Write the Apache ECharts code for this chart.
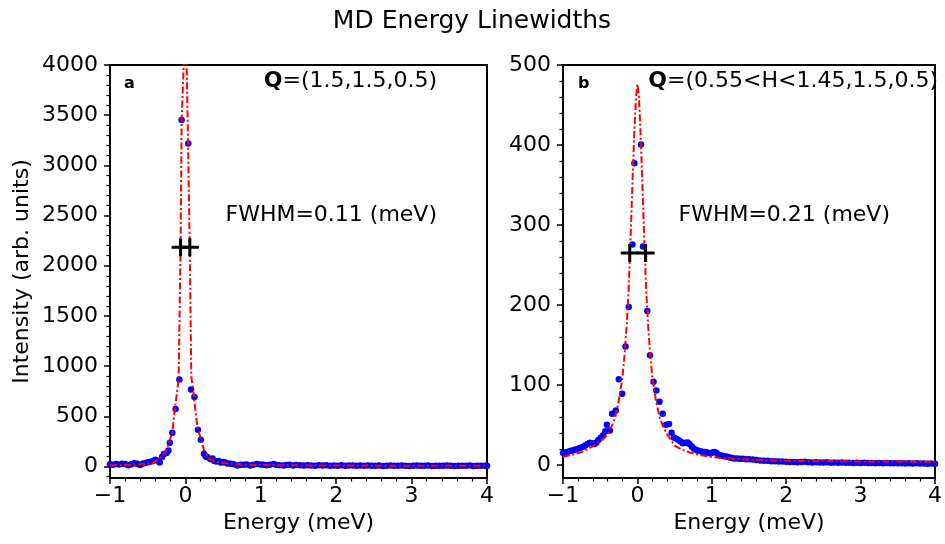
<!DOCTYPE html>
<html><head><meta charset="utf-8">
<script src="https://cdn.jsdelivr.net/npm/echarts@6/dist/echarts.min.js"></script>
<style>html,body{margin:0;padding:0;background:#fff}#c{width:945px;height:544px}</style>
</head><body><div id="c"></div>
<script>
// ---------- Panel a: data points ----------
const energyA = [-1.00,-0.96,-0.92,-0.88,-0.84,-0.80,-0.76,-0.72,-0.68,-0.64,-0.60,-0.56,-0.52,-0.48,-0.44,-0.40,-0.37,
  -0.34,-0.31,-0.285,-0.25,-0.225,-0.205,-0.174,-0.13,-0.08,-0.05,0.038,0.075,0.12,0.166,0.205,0.245,0.27,0.29,0.33,0.36,0.38,
  0.41,0.44,0.47,0.50,0.53,0.56,0.60,0.64,0.69,0.73,0.77,0.81,0.86,0.90,0.95,1.00,1.04,1.08,1.12,1.17,1.21,1.25,1.30,1.34,1.38,1.43,1.47,
  1.52,1.57,1.62,1.67,1.72,1.77,1.82,1.87,1.92,1.97,2.02,2.07,2.12,2.17,2.22,2.27,2.32,2.37,2.42,2.47,2.52,2.57,2.62,2.67,2.72,2.77,2.82,2.87,2.92,2.97,
  3.02,3.07,3.12,3.17,3.22,3.27,3.32,3.37,3.42,3.47,3.52,3.57,3.62,3.67,3.72,3.77,3.82,3.87,3.92,3.97,4.00];
const intensityA = [22,18,25,20,28,24,12,22,32,26,15,30,36,44,52,66,58,
  40,95,123,135,160,235,335,572,867,3453,3217,767,691,366,266,126,100,94,74,80,57,
  50,55,40,45,40,30,27,22,10,18,17,20,10,18,24,20,17,12,18,24,15,12,10,14,18,10,14,
  12,9,13,10,8,12,9,11,7,10,8,11,7,9,10,6,9,8,10,6,8,9,5,8,10,7,6,9,7,5,
  8,9,6,7,9,5,7,8,6,9,7,5,8,6,7,9,5,7,6,8,6];
// ---------- Panel a: fitted curve ----------
const fitEnergyA = [-1,-0.8,-0.6,-0.5,-0.42,-0.33,-0.26,-0.22,-0.175,-0.14,-0.09,-0.064,-0.05,-0.02,0,0.016,0.035,0.058,0.078,0.113,0.158,0.2,0.245,0.31,0.4,0.5,0.6,0.8,1,1.5,2,3,4];
const fitIntensityA = [12,15,22,28,38,84,150,233,333,565,867,2185,3450,4050,4400,4050,3217,2185,900,697,398,283,166,84,50,35,26,18,15,11,9,7.5,7];
// ---------- Panel a: half-maximum markers ----------
const halfEnergyA = [-0.064, 0.059];
const halfIntensityA = [2185, 2185];

// ---------- Panel b: data points ----------
const energyB = [-1.00,-0.97,-0.94,-0.91,-0.88,-0.85,-0.82,-0.79,-0.76,-0.73,-0.70,-0.67,-0.64,-0.61,-0.58,-0.55,-0.525,-0.49,-0.46,-0.43,-0.41,-0.37,-0.34,-0.29,-0.25,-0.205,-0.16,-0.116,-0.067,-0.04,
  0.048,0.075,0.133,0.17,0.217,0.255,0.297,0.34,0.387,0.425,0.46,0.49,0.52,0.55,0.58,0.61,0.645,0.675,0.70,0.73,0.76,0.79,0.82,0.85,0.88,0.91,0.94,0.97,1.00,
  1.03,1.06,1.09,1.12,1.15,1.18,1.21,1.24,1.27,1.30,1.34,1.38,1.42,1.46,1.50,1.55,1.60,1.65,1.70,1.75,1.80,1.85,1.90,1.95,2.00,
  2.05,2.10,2.15,2.20,2.25,2.30,2.35,2.40,2.45,2.50,2.55,2.60,2.65,2.70,2.75,2.80,2.85,2.90,2.95,3.00,
  3.05,3.10,3.15,3.20,3.25,3.30,3.35,3.40,3.45,3.50,3.55,3.60,3.65,3.70,3.75,3.80,3.85,3.90,3.95,4.00];
const intensityB = [15,15.5,16,17,18,18.5,19.5,20.5,21.5,22.5,24,26,27.5,27,26,28,31,34,37,42,50,43,64,68,107,89,148,197.5,275.5,377,
  400.5,273,192.5,137,104,93,79,64,50,51,40,34,33,31,29,27,27.5,28,26,23,20,18.5,17.5,17,16,16,15.5,14.5,15,
  16,15,13,12,11,10.5,10,9,8.5,8,8,7.5,7.5,7,7,6.5,6,5.5,5,5,4.5,4.5,4,4,3.8,
  3.5,3.6,3.3,3.4,3.8,3.2,3.0,3.3,3.0,2.8,3.1,2.7,2.9,2.6,2.8,2.5,2.7,2.4,2.6,2.3,
  2.5,2.2,2.4,2.1,2.3,2.0,2.2,1.9,2.1,1.8,2.0,1.7,1.9,1.6,1.8,1.5,1.7,1.4,1.5,1.3];
// ---------- Panel b: fitted curve ----------
const fitEnergyB = [-1,-0.9,-0.8,-0.7,-0.6,-0.5,-0.45,-0.4,-0.35,-0.3,-0.25,-0.2,-0.17,-0.14,-0.12,-0.1,-0.08,-0.06,-0.04,-0.02,0,0.02,0.04,0.06,0.08,0.1,0.12,0.14,0.17,0.2,0.25,0.3,0.35,0.4,0.45,0.5,0.6,0.7,0.8,1.0,1.2,1.5,2.0,2.5,3.0,3.5,4.0];
const fitIntensityB = [10,12,14.5,18,23,30,33,38,47,59,80,110,140,180,215,262,315,370,420,458,476,462,420,370,315,262,215,180,140,110,80,59,47,38,31,24,19,15.5,13,9.7,8,6.5,5,4.5,4.2,4,3.8];
// ---------- Panel b: half-maximum markers ----------
const halfEnergyB = [-0.103, 0.111];
const halfIntensityB = [265, 265];

// ---------- ticks / texts ----------
const xTicks = [-1,0,1,2,3,4];
const yTicksA = [0,500,1000,1500,2000,2500,3000,3500,4000];
const yTicksB = [0,100,200,300,400,500];
const titleText = 'MD Energy Linewidths';
const xName = 'Energy (meV)';
const yName = 'Intensity (arb. units)';

const FONT = 'DejaVu Sans';
const FS = 22;
const zip = (a, b) => a.map((v, i) => [v, b[i]]);
const minus = v => (v < 0 ? '\u2212' + Math.abs(v) : String(v));
const plain = v => String(v);
const PLUS = 'path://M7.5,0 h3 v7.5 h7.5 v3 h-7.5 v7.5 h-3 v-7.5 h-7.5 v-3 h7.5 z';

function xAxisFor(gi) {
  return {
    type: 'value', gridIndex: gi, min: -1, max: 4, interval: 1,
    name: xName, nameLocation: 'middle', nameGap: 31,
    nameTextStyle: {fontFamily: FONT, fontSize: FS, color: '#000'},
    axisLine: {show: true, onZero: false, lineStyle: {color: '#000', width: 2}},
    axisTick: {show: true, inside: false, length: 6, customValues: xTicks, lineStyle: {color: '#000', width: 1.5}},
    minorTick: {show: true, splitNumber: 5, length: 3.5, lineStyle: {color: '#000', width: 1.2}},
    axisLabel: {fontFamily: FONT, fontSize: FS, color: '#000', margin: 7, customValues: xTicks, formatter: minus},
    splitLine: {show: false}
  };
}
function yAxisFor(gi, min, max, split, ticks, withName) {
  return {
    type: 'value', gridIndex: gi, min: min, max: max, splitNumber: split,
    name: withName ? yName : '', nameLocation: 'middle', nameGap: 77,
    nameTextStyle: {fontFamily: FONT, fontSize: FS, color: '#000'},
    axisLine: {show: true, onZero: false, lineStyle: {color: '#000', width: 2}},
    axisTick: {show: true, inside: false, length: 6, customValues: ticks, lineStyle: {color: '#000', width: 1.5}},
    minorTick: {show: true, splitNumber: 5, length: 3.5, lineStyle: {color: '#000', width: 1.2}},
    axisLabel: {fontFamily: FONT, fontSize: FS, color: '#000', margin: 12, customValues: ticks, formatter: plain},
    splitLine: {show: false}
  };
}
const fitLine = {color: '#ff0000', width: 2, type: [7, 2.5, 2, 2.5]};
const dots = {color: '#0000ff', opacity: 1};

const chart = echarts.init(document.getElementById('c'), null, {renderer: 'canvas'});
chart.setOption({
  animation: false,
  backgroundColor: '#fff',
  grid: [
    {left: 110, top: 65, width: 377, height: 413, show: true, borderColor: '#000', borderWidth: 2, backgroundColor: 'transparent'},
    {left: 563, top: 65, width: 377, height: 413, show: true, borderColor: '#000', borderWidth: 2, backgroundColor: 'transparent'}
  ],
  xAxis: [xAxisFor(0), xAxisFor(1)],
  yAxis: [yAxisFor(0, -115, 4000, 8, yTicksA, true), yAxisFor(1, -16.5, 500, 5, yTicksB, false)],
  series: [
    {type: 'scatter', xAxisIndex: 0, yAxisIndex: 0, data: zip(energyA, intensityA), symbolSize: 6.5, itemStyle: dots, clip: true, z: 2},
    {type: 'line', xAxisIndex: 0, yAxisIndex: 0, data: zip(fitEnergyA, fitIntensityA), showSymbol: false, symbol: 'none', lineStyle: fitLine, clip: true, z: 3},
    {type: 'scatter', xAxisIndex: 0, yAxisIndex: 0, data: zip(halfEnergyA, halfIntensityA), symbol: PLUS, symbolSize: [18, 18], itemStyle: {color: '#000', opacity: 1}, z: 4},
    {type: 'scatter', xAxisIndex: 1, yAxisIndex: 1, data: zip(energyB, intensityB), symbolSize: 6.5, itemStyle: dots, clip: true, z: 2},
    {type: 'line', xAxisIndex: 1, yAxisIndex: 1, data: zip(fitEnergyB, fitIntensityB), showSymbol: false, symbol: 'none', lineStyle: fitLine, clip: true, z: 3},
    {type: 'scatter', xAxisIndex: 1, yAxisIndex: 1, data: zip(halfEnergyB, halfIntensityB), symbol: PLUS, symbolSize: [18, 18], itemStyle: {color: '#000', opacity: 1}, z: 4}
  ],
  graphic: [
    {type: 'text', x: 472, y: 21, style: {text: titleText, fontFamily: FONT, fontSize: 25, fill: '#000', align: 'center', verticalAlign: 'middle'}},
    {type: 'text', x: 124, y: 84, style: {text: 'a', fontFamily: FONT, fontSize: 16, fontWeight: 'bold', fill: '#000', align: 'left', verticalAlign: 'middle'}},
    {type: 'text', x: 437, y: 81, style: {text: '{q|Q}=(1.5,1.5,0.5)', fontFamily: FONT, fontSize: FS, fill: '#000', align: 'right', verticalAlign: 'middle', rich: {q: {fontFamily: FONT, fontSize: FS, fontWeight: 'bold', fill: '#000'}}}},
    {type: 'text', x: 437, y: 215, style: {text: 'FWHM=0.11 (meV)', fontFamily: FONT, fontSize: FS, fill: '#000', align: 'right', verticalAlign: 'middle'}},
    {type: 'text', x: 578, y: 84, style: {text: 'b', fontFamily: FONT, fontSize: 16, fontWeight: 'bold', fill: '#000', align: 'left', verticalAlign: 'middle'}},
    {type: 'text', x: 938, y: 81, style: {text: '{q|Q}=(0.55<H<1.45,1.5,0.5)', fontFamily: FONT, fontSize: FS, fill: '#000', align: 'right', verticalAlign: 'middle', rich: {q: {fontFamily: FONT, fontSize: FS, fontWeight: 'bold', fill: '#000'}}}},
    {type: 'text', x: 890, y: 215, style: {text: 'FWHM=0.21 (meV)', fontFamily: FONT, fontSize: FS, fill: '#000', align: 'right', verticalAlign: 'middle'}}
  ]
});
</script>
</body></html>
